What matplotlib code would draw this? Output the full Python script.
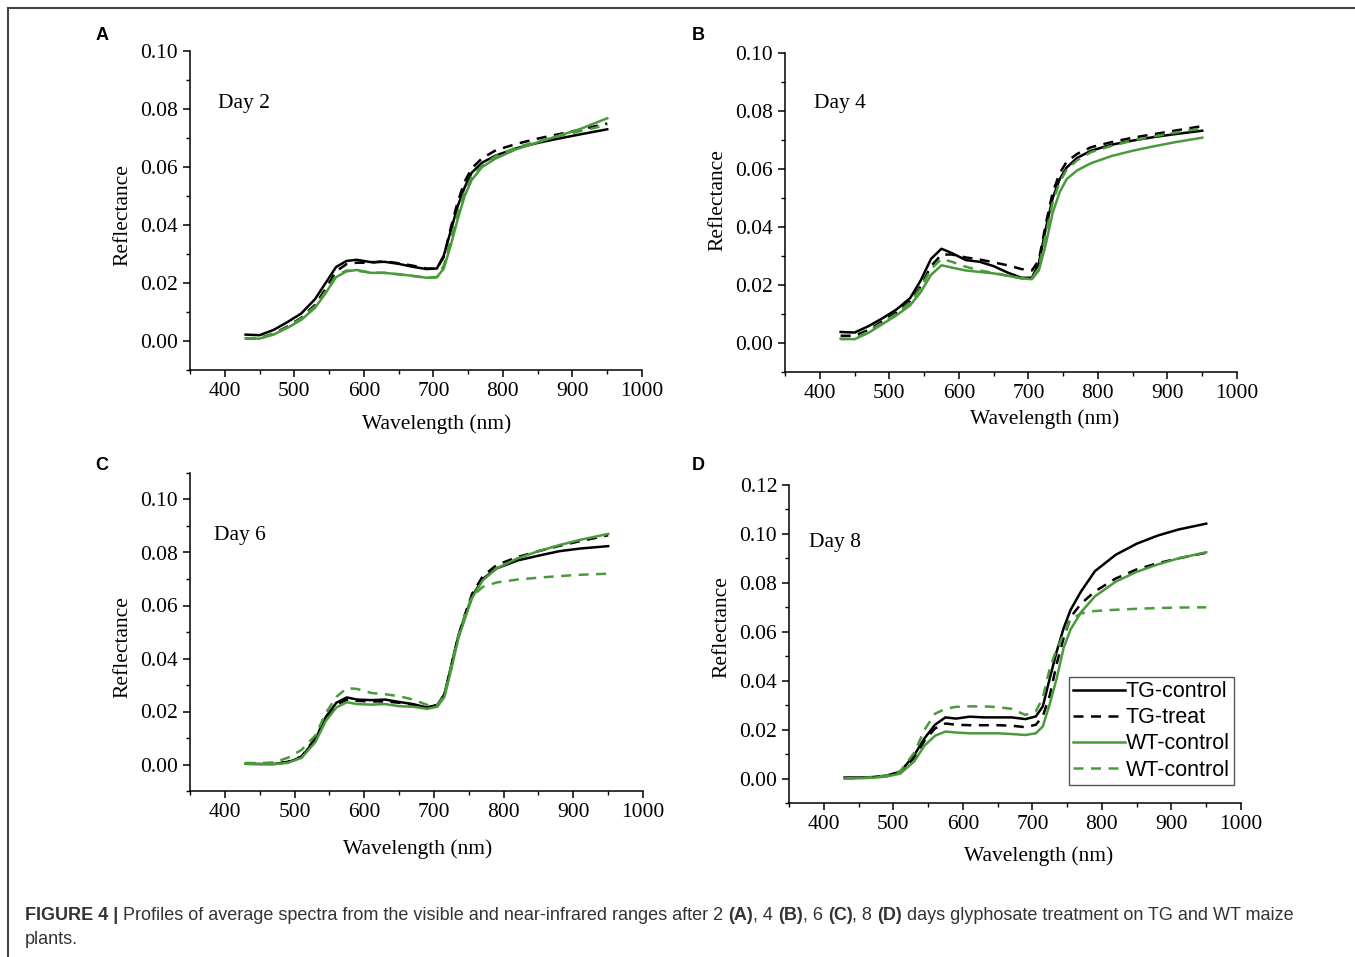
import matplotlib
matplotlib.use("Agg")
import matplotlib.pyplot as plt
from matplotlib.lines import Line2D
from matplotlib.ticker import MultipleLocator, FormatStrFormatter

# wavelength grid (nm)
wl = [430, 450, 470, 490, 510, 530, 545, 560, 575, 590, 610, 630, 650, 670,
      690, 705, 715, 725, 735, 745, 755, 770, 790, 820, 850, 880, 910, 950]

# reflectance x1000, one list per curve and day
day2_tg_control = [2.2, 2.0, 3.8, 6.5, 9.5, 14.5, 20.0, 25.5, 27.6, 28.0, 27.2, 27.3, 26.6, 25.6,
                   24.8, 25.0, 29.5, 38.0, 46.5, 53.0, 58.0, 61.5, 64.0, 66.5, 68.3, 69.8, 71.2, 73.0]
day2_tg_treat = [0.8, 1.0, 2.5, 5.0, 8.0, 12.5, 18.0, 24.0, 26.5, 27.0, 27.0, 27.5, 26.8, 26.0,
                 25.0, 25.0, 29.0, 39.0, 48.0, 55.0, 59.5, 63.0, 65.8, 68.0, 69.8, 71.3, 72.8, 75.0]
day2_wt_control = [0.9, 0.8, 2.2, 4.5, 7.3, 11.5, 16.5, 22.0, 24.0, 24.5, 23.5, 23.5, 23.0, 22.5,
                   21.8, 22.0, 25.0, 33.0, 42.0, 50.0, 55.5, 60.0, 63.0, 66.2, 68.5, 70.8, 73.0, 76.8]
day2_wt_treat = [0.8, 1.0, 2.4, 4.8, 7.8, 12.0, 17.0, 22.5, 24.3, 24.2, 23.6, 23.5, 23.0, 22.4,
                 21.8, 22.0, 26.0, 35.0, 44.0, 51.5, 56.5, 60.5, 63.8, 66.8, 68.8, 70.6, 72.3, 74.5]

day4_tg_control = [3.8, 3.6, 5.8, 8.5, 11.5, 15.5, 21.5, 29.0, 32.5, 31.0, 28.6, 28.0, 26.5, 24.3,
                   22.5, 22.5, 27.5, 39.5, 50.0, 56.5, 60.5, 63.8, 66.3, 68.4, 69.8, 71.0, 72.0, 73.2]
day4_tg_treat = [2.5, 2.5, 4.5, 7.5, 10.5, 14.5, 19.5, 26.5, 30.5, 30.5, 29.5, 28.8, 27.8, 26.8,
                 25.5, 25.0, 28.5, 41.0, 52.0, 58.5, 62.5, 65.2, 67.5, 69.3, 70.8, 72.0, 73.2, 74.8]
day4_wt_control = [1.5, 1.3, 3.5, 6.5, 9.5, 13.0, 17.5, 23.5, 26.8, 26.0, 25.0, 24.5, 24.0, 23.2,
                   22.3, 22.0, 25.0, 34.0, 45.0, 52.0, 56.5, 59.5, 62.0, 64.5, 66.3, 67.8, 69.2, 70.8]
day4_wt_treat = [1.3, 1.5, 4.0, 7.0, 10.0, 14.0, 19.0, 25.5, 29.0, 28.0, 26.3, 25.0, 24.2, 23.2,
                 22.3, 22.3, 26.0, 37.5, 48.5, 55.5, 59.8, 63.0, 65.8, 68.0, 69.8, 71.2, 72.5, 74.0]

day6_tg_control = [0.3, 0.2, 0.2, 0.8, 2.8, 9.5, 18.0, 23.3, 25.3, 24.5, 24.3, 24.5, 23.6, 22.8,
                   21.5, 22.5, 26.5, 37.5, 48.5, 56.0, 63.5, 70.0, 74.0, 77.0, 78.8, 80.5, 81.5, 82.4]
day6_tg_treat = [0.5, 0.3, 0.3, 1.0, 3.0, 10.0, 17.5, 22.5, 24.5, 24.0, 23.8, 23.8, 23.3, 22.5,
                 21.5, 22.3, 26.0, 37.0, 48.5, 57.0, 64.5, 71.0, 75.3, 78.3, 80.5, 82.5, 84.3, 86.5]
day6_wt_control = [0.2, 0.1, 0.1, 0.6, 2.5, 8.5, 16.5, 21.5, 23.5, 22.8, 22.6, 22.8, 22.0, 21.8,
                   21.0, 21.8, 25.5, 36.0, 47.5, 55.5, 63.0, 69.5, 74.0, 77.8, 80.5, 82.8, 84.8, 87.0]
day6_wt_treat = [0.6, 0.5, 0.8, 2.5, 5.5, 11.0, 19.5, 25.5, 28.8, 28.5, 27.0, 26.5, 25.8, 24.5,
                 22.5, 22.5, 26.0, 37.5, 48.5, 57.0, 63.5, 67.0, 68.7, 69.8, 70.5, 71.1, 71.6, 72.0]

day8_tg_control = [0.4, 0.4, 0.6, 1.2, 2.8, 9.5, 16.5, 22.0, 25.0, 24.5, 25.3, 25.0, 25.0, 25.0,
                   24.3, 25.4, 29.5, 41.0, 52.0, 61.5, 69.0, 76.5, 84.8, 91.5, 96.0, 99.3, 101.8, 104.2]
day8_tg_treat = [0.2, 0.2, 0.5, 1.0, 2.5, 8.5, 15.5, 20.5, 22.5, 22.0, 21.8, 21.8, 21.8, 21.6,
                 21.0, 22.0, 25.5, 34.0, 47.0, 57.5, 66.0, 71.5, 76.5, 81.8, 85.5, 88.0, 90.0, 92.3]
day8_wt_control = [0.0, 0.1, 0.3, 0.8, 2.0, 7.0, 13.5, 17.5, 19.2, 18.8, 18.5, 18.5, 18.5, 18.2,
                   17.8, 18.5, 21.3, 30.5, 41.0, 53.5, 61.0, 68.0, 74.5, 80.5, 84.5, 87.5, 90.0, 92.5]
day8_wt_treat = [0.1, 0.2, 0.5, 1.2, 3.0, 10.5, 20.0, 26.5, 28.5, 29.3, 29.5, 29.5, 29.2, 28.5,
                 26.0, 27.5, 33.0, 45.0, 53.0, 59.0, 65.0, 67.5, 68.5, 69.0, 69.4, 69.7, 69.9, 70.0]

series_labels = ["TG-control", "TG-treat", "WT-control", "WT-control"]
day_labels = ["Day 2", "Day 4", "Day 6", "Day 8"]
panel_letters = ["A", "B", "C", "D"]

GREEN = "#4a9a3c"
styles = [("black", "-"), ("black", "--"), (GREEN, "-"), (GREEN, "--")]

plt.rcParams["font.family"] = ["Liberation Serif", "DejaVu Serif"]

fig = plt.figure(figsize=(13.55, 9.57), dpi=100)
W, H = 1355.0, 957.0


def px_axes(l, t, r, b):
    return fig.add_axes([l / W, 1 - b / H, (r - l) / W, (b - t) / H])


panels = [
    dict(box=(190, 51, 642, 370), ylim=(-0.01, 0.10), ymax=0.10,
         data=[day2_tg_control, day2_tg_treat, day2_wt_control, day2_wt_treat],
         day=(0.062, 0.834), ylab=(-0.128, 0.486), xlab=(0.546, -0.138), letter=(102, 35)),
    dict(box=(785, 53, 1237, 372), ylim=(-0.01, 0.10), ymax=0.10,
         data=[day4_tg_control, day4_tg_treat, day4_wt_control, day4_wt_treat],
         day=(0.064, 0.843), ylab=(-0.128, 0.54), xlab=(0.575, -0.116), letter=(698, 35)),
    dict(box=(190, 473, 643, 791), ylim=(-0.01, 0.11), ymax=0.10,
         data=[day6_tg_control, day6_tg_treat, day6_wt_control, day6_wt_treat],
         day=(0.053, 0.805), ylab=(-0.128, 0.453), xlab=(0.502, -0.151), letter=(102, 466)),
    dict(box=(789, 485, 1241, 803), ylim=(-0.01, 0.12), ymax=0.12,
         data=[day8_tg_control, day8_tg_treat, day8_wt_control, day8_wt_treat],
         day=(0.044, 0.818), ylab=(-0.128, 0.553), xlab=(0.553, -0.135), letter=(698, 466)),
]

for i, p in enumerate(panels):
    ax = px_axes(*p["box"])
    for vals, (c, ls), lab in zip(p["data"], styles, series_labels):
        y = [v / 1000.0 for v in vals]
        if ls == "--":
            ax.plot(wl, y, color=c, lw=1.8, linestyle=(0, (4, 3)), label=lab)
        else:
            ax.plot(wl, y, color=c, lw=1.8, label=lab)
    ax.set_xlim(350, 1000)
    ax.set_ylim(*p["ylim"])
    ax.spines["top"].set_visible(False)
    ax.spines["right"].set_visible(False)
    for s in ("left", "bottom"):
        ax.spines[s].set_linewidth(1.1)
    ax.set_xticks(range(400, 1001, 100))
    ax.xaxis.set_minor_locator(MultipleLocator(50))
    yt = [k * 0.02 for k in range(int(round(p["ymax"] / 0.02)) + 1)]
    ax.set_yticks(yt)
    ax.yaxis.set_major_formatter(FormatStrFormatter("%.2f"))
    ax.yaxis.set_minor_locator(MultipleLocator(0.01))
    ax.tick_params(which="major", direction="out", length=5, width=1.1, labelsize=15.5)
    ax.tick_params(which="minor", direction="out", length=3, width=1.0)
    ax.set_ylabel("Reflectance", fontsize=15.5)
    ax.set_xlabel("Wavelength (nm)", fontsize=15.5)
    ax.yaxis.set_label_coords(*p["ylab"])
    ax.xaxis.set_label_coords(*p["xlab"])
    ax.text(p["day"][0], p["day"][1], day_labels[i], transform=ax.transAxes,
            fontsize=15.5, va="center", ha="left")
    lx, ly = p["letter"]
    fig.text(lx / W, 1 - ly / H, panel_letters[i], fontsize=13, fontweight="bold",
             family="Liberation Sans", ha="center", va="center")
    if i == 3:
        leg = ax.legend(loc="lower right", bbox_to_anchor=(0.985, 0.057), borderaxespad=0,
                        fancybox=False, framealpha=1, edgecolor="#555555",
                        prop={"family": "Liberation Sans", "size": 15.5},
                        handlelength=2.4, handletextpad=0.05, labelspacing=0.24,
                        borderpad=0.2)
        leg.get_frame().set_linewidth(1.0)

# frame lines of the figure page
fig.add_artist(Line2D([8 / W, 1.0], [1 - 8 / H, 1 - 8 / H], color="#444444", lw=1.5))
fig.add_artist(Line2D([8 / W, 8 / W], [0.0, 1 - 8 / H], color="#444444", lw=1.5))

# caption, bold pieces chained one after the other
cap_color = "#333333"
cap_size = 13
pieces = [("FIGURE 4 |", "bold"),
          (" Profiles of average spectra from the visible and near-infrared ranges after 2 ", "normal"),
          ("(A)", "bold"), (", 4 ", "normal"), ("(B)", "bold"), (", 6 ", "normal"),
          ("(C)", "bold"), (", 8 ", "normal"), ("(D)", "bold"),
          (" days glyphosate treatment on TG and WT maize", "normal")]
last = fig.text(25 / W, 1 - 915 / H, pieces[0][0], fontsize=cap_size, fontweight="bold",
                family="Liberation Sans", color=cap_color, va="center", ha="left")
for txt, wt in pieces[1:]:
    last = plt.annotate(txt, xy=(1, 0), xycoords=last, va="bottom", ha="left",
                        fontsize=cap_size, fontweight=wt, family="Liberation Sans",
                        color=cap_color, annotation_clip=False)
fig.text(25 / W, 1 - 940 / H, "plants.", fontsize=cap_size, family="Liberation Sans",
         color=cap_color, va="center", ha="left")

fig.savefig("out.png", dpi=100)
